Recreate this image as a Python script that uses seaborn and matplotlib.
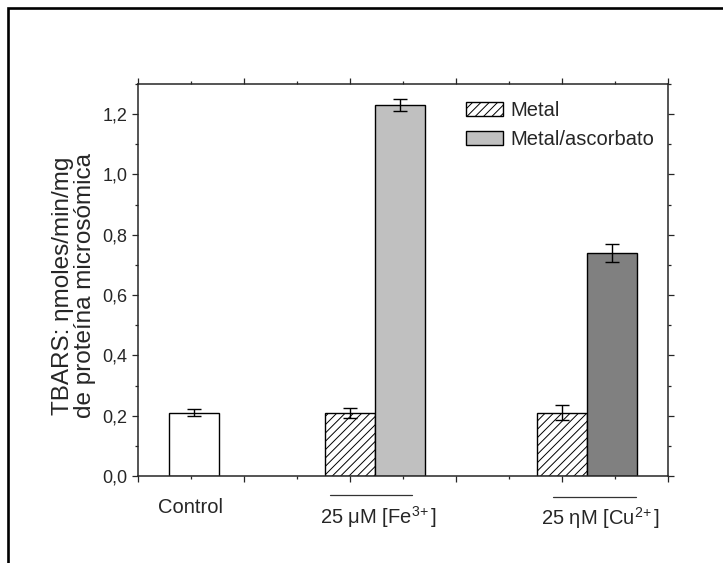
import matplotlib
matplotlib.use("Agg")
import matplotlib.pyplot as plt
import seaborn as sns
from matplotlib.patches import Patch, Rectangle
from matplotlib.ticker import MultipleLocator

# bar data (x positions on the 0-10 category axis, values in nmol/min/mg)
bar_pos = [1.06, 4.0, 4.94, 8.0, 8.94]
bar_val = [0.21, 0.21, 1.23, 0.21, 0.74]
bar_err = [0.012, 0.016, 0.02, 0.025, 0.03]
bar_kind = ["control", "metal", "ascorbato", "metal", "ascorbato"]
bar_fill = ["white", "white", "#c0c0c0", "white", "#808080"]

group_labels = ["Control", r"25 μM [Fe$^{3\!+}$]", r"25 ηM [Cu$^{2\!+}$]"]
group_label_x = [1.0, 4.53, 8.71]
group_label_drop = [-26.5, -34.5, -35.0]   # points below the axis (baseline)
overline_x = [None, (3.63, 5.17), (7.83, 9.38)]
overline_y = [None, -0.0485, -0.0536]

legend_labels = ["Metal", "Metal/ascorbato"]

y_ticks = [0.0, 0.2, 0.4, 0.6, 0.8, 1.0, 1.2]
y_tick_labels = ["0,0", "0,2", "0,4", "0,6", "0,8", "1,0", "1,2"]
x_major = [0, 2, 4, 6, 8, 10]

sns.set_style("ticks")
plt.rcParams["font.family"] = ["Liberation Sans", "DejaVu Sans"]
plt.rcParams["mathtext.fontset"] = "custom"
plt.rcParams["mathtext.rm"] = "Liberation Sans"
plt.rcParams["mathtext.it"] = "Liberation Sans:italic"
plt.rcParams["mathtext.bf"] = "Liberation Sans:bold"
plt.rcParams["hatch.linewidth"] = 0.7

fig = plt.figure(figsize=(7.23, 5.63), dpi=100)
ax = fig.add_axes([0.1905, 0.1545, 0.7341, 0.6963])

sns.barplot(x=bar_pos, y=bar_val, native_scale=True, width=1.0, color="white",
            edgecolor="black", linewidth=1.0, errorbar=None, ax=ax)

for patch, fill, kind in zip(ax.patches, bar_fill, bar_kind):
    patch.set_facecolor(fill)
    patch.set_edgecolor("black")
    if kind == "metal":
        patch.set_hatch("////")

ax.errorbar(bar_pos, bar_val, yerr=bar_err, fmt="none", ecolor="black",
            elinewidth=1.0, capsize=4.8, capthick=1.0, zorder=5)

ax.set_xlim(0, 10)
ax.set_ylim(0, 1.30)
ax.set_xticks(x_major)
ax.xaxis.set_minor_locator(MultipleLocator(1))
ax.set_xticklabels([])
ax.set_yticks(y_ticks)
ax.set_yticklabels(y_tick_labels, fontsize=13)
ax.yaxis.set_minor_locator(MultipleLocator(0.1))
ax.tick_params(which="both", direction="out", top=True, right=True, width=0.9)
ax.tick_params(which="major", length=4)
ax.tick_params(which="minor", length=2)
for sp in ax.spines.values():
    sp.set_visible(True)
    sp.set_linewidth(1.1)

for lab, x, dy, ox, oy in zip(group_labels, group_label_x, group_label_drop, overline_x, overline_y):
    ax.annotate(lab, xy=(x, 0), xycoords=("data", "axes fraction"),
                xytext=(0, dy), textcoords="offset points",
                ha="center", va="baseline", fontsize=14.5)
    if ox is not None:
        ax.plot(ox, [oy, oy], color="#333333", lw=0.9,
                transform=ax.get_xaxis_transform(), clip_on=False)

ax.set_ylabel("TBARS: ηmoles/min/mg\nde proteína microsómica", fontsize=17.5,
              va="center", linespacing=1.05)
ax.yaxis.set_label_coords(-0.12, 0.485)

handles = [Patch(facecolor="white", edgecolor="black", hatch="////", linewidth=1.0),
           Patch(facecolor="#c0c0c0", edgecolor="black", linewidth=1.0)]
ax.legend(handles, legend_labels, loc="upper left", bbox_to_anchor=(0.6185, 0.956),
          frameon=False, fontsize=14.5, handlelength=1.85, handleheight=0.67,
          handletextpad=0.35, labelspacing=0.5, borderpad=0, borderaxespad=0)

# outer frame of the original figure (cut off at right and bottom)
fig.patches.append(Rectangle((8 / 723, -0.1), 1.2, 1.1 - 8.5 / 563, transform=fig.transFigure,
                             fill=False, edgecolor="black", linewidth=1.9))

fig.savefig("out.png", dpi=100)
